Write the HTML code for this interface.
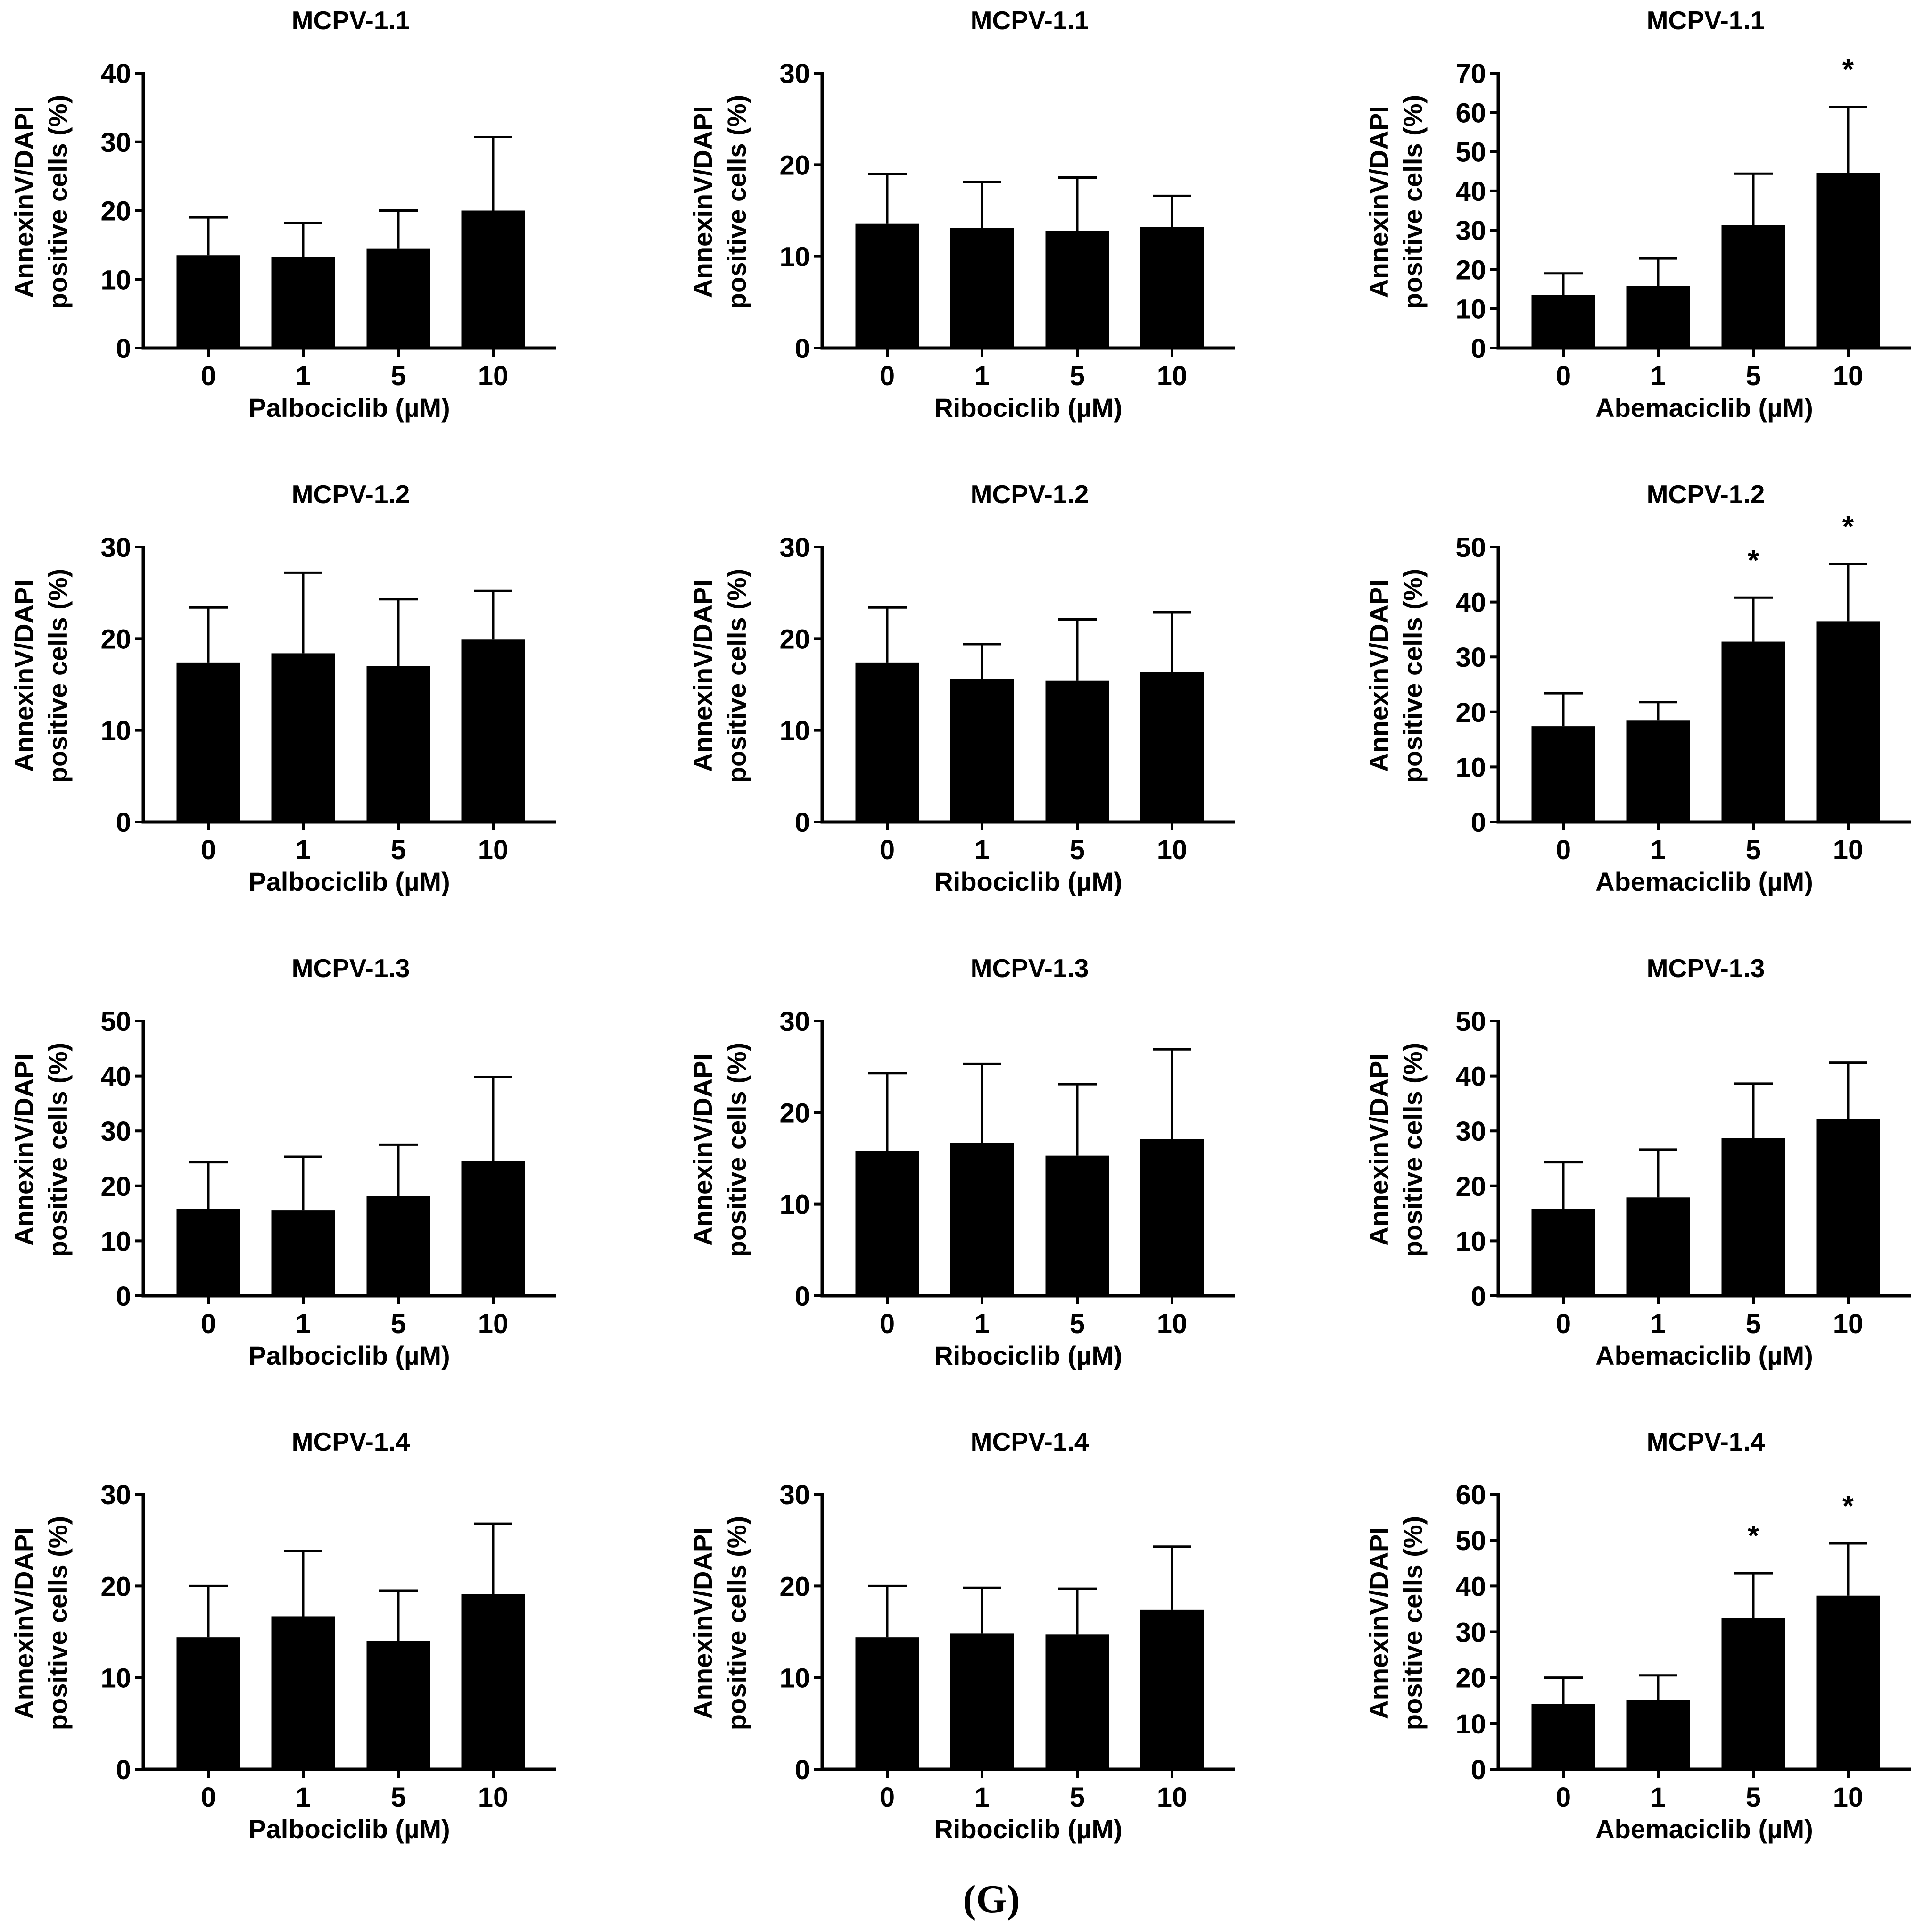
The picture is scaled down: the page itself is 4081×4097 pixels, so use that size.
<!DOCTYPE html>
<html><head><meta charset="utf-8">
<style>
html,body{margin:0;padding:0;background:#fff;}
svg{display:block;}
text{font-family:"Liberation Sans",Arial,sans-serif;font-weight:bold;fill:#000;}
</style></head>
<body>
<svg id="fig" width="4081" height="4097" viewBox="0 0 4081 4097" xmlns="http://www.w3.org/2000/svg">
<text x="2103" y="4055" font-size="84" text-anchor="middle" style="font-family:'Liberation Serif',serif;font-weight:bold">(G)</text>
</svg>
<script>
const categories = ["0","1","5","10"];
const titles = ["MCPV-1.1","MCPV-1.2","MCPV-1.3","MCPV-1.4"];
const drugs = ["Palbociclib (µM)","Ribociclib (µM)","Abemaciclib (µM)"];
const yMax = [[40,30,70],[30,30,50],[50,30,50],[30,30,60]];
const means_r1 = [[13.5,13.3,14.5,20],[13.6,13.1,12.8,13.2],[13.5,15.8,31.3,44.6]];
const tops_r1  = [[19,18.2,20,30.7],[19,18.1,18.6,16.6],[19,22.8,44.4,61.4]];
const means_r2 = [[17.4,18.4,17,19.9],[17.4,15.6,15.4,16.4],[17.4,18.5,32.8,36.5]];
const tops_r2  = [[23.4,27.2,24.3,25.2],[23.4,19.4,22.1,22.9],[23.4,21.8,40.8,46.9]];
const means_r3 = [[15.8,15.6,18.1,24.6],[15.8,16.7,15.3,17.1],[15.8,17.9,28.7,32.1]];
const tops_r3  = [[24.3,25.3,27.5,39.8],[24.3,25.3,23.1,26.9],[24.3,26.6,38.6,42.4]];
const means_r4 = [[14.4,16.7,14,19.1],[14.4,14.8,14.7,17.4],[14.3,15.2,33,37.9]];
const tops_r4  = [[20,23.8,19.5,26.8],[20,19.8,19.7,24.3],[20,20.5,42.8,49.3]];
const stars_r1 = [[],[],[3]];
const stars_r2 = [[],[],[2,3]];
const stars_r3 = [[],[],[]];
const stars_r4 = [[],[],[2,3]];
const tickStep = 10;

const means = [means_r1,means_r2,means_r3,means_r4];
const tops = [tops_r1,tops_r2,tops_r3,tops_r4];
const stars = [stars_r1,stars_r2,stars_r3,stars_r4];

const NS="http://www.w3.org/2000/svg";
const svg=document.getElementById('fig');
function mk(tag,attrs,parent){const e=document.createElementNS(NS,tag);for(const k in attrs)e.setAttribute(k,attrs[k]);(parent||svg).appendChild(e);return e;}
const colX=[304,1744,3178];
const rowZero=[738,1743,2748,3752];
const plotH=583, axisLen=875, barW=135;
const barOff=[138,339,541,742];

for(let r=0;r<4;r++){for(let c=0;c<3;c++){
  const ax=colX[c], y0=rowZero[r], ymax=yMax[r][c];
  const g=mk('g',{});
  
  
  const yS=v=>y0-v/ymax*plotH;
  const xS=i=>ax+barOff[i];
  const t=mk('text',{x:ax+440,y:y0-676,'font-size':55,'text-anchor':'middle'},g);
  t.textContent=titles[r];
  
  
  for(let i=0;i<4;i++){
    const m=means[r][c][i], tp=tops[r][c][i];
    const b=mk('rect',{x:xS(i)-barW/2,y:yS(m),width:barW,height:y0-yS(m),fill:'#000'},g);
    
    
    const e=mk('path',{d:`M${xS(i)} ${yS(m)}V${yS(tp)}M${xS(i)-41} ${yS(tp)}H${xS(i)+41}`,stroke:'#000','stroke-width':5,fill:'none'},g);
    
    
  }
  stars[r][c].forEach(i=>{
    const s=mk('text',{x:xS(i),y:yS(tops[r][c][i])-58,'font-size':62,'text-anchor':'middle'},g);
    s.textContent='*';
    
    
  });
  const axes=mk('path',{d:`M${ax} ${y0-plotH-3}V${y0}H${ax+axisLen}`,stroke:'#000','stroke-width':7,fill:'none'},g);
  
  
  for(let v=0;v<=ymax;v+=tickStep){
    mk('path',{d:`M${ax-18} ${yS(v)}H${ax}`,stroke:'#000','stroke-width':6},g);
    const tl=mk('text',{x:ax-26,y:yS(v)+21,'font-size':58,'text-anchor':'end'},g);
    tl.textContent=v;
    
    
  }
  for(let i=0;i<4;i++){
    mk('path',{d:`M${xS(i)} ${y0}V${y0+18}`,stroke:'#000','stroke-width':6},g);
    const xl=mk('text',{x:xS(i),y:y0+79,'font-size':58,'text-anchor':'middle'},g);
    xl.textContent=categories[i];
    
    
  }
  const xt=mk('text',{x:ax+437,y:y0+146,'font-size':56,'text-anchor':'middle'},g);
  xt.textContent=drugs[c];
  
  
  const cy=y0-310;
  const y1=mk('text',{x:0,y:0,'font-size':56,'text-anchor':'middle',transform:`translate(${ax-234},${cy}) rotate(-90)`},g);
  y1.textContent='AnnexinV/DAPI';
  
  
  const y2=mk('text',{x:0,y:0,'font-size':56,'text-anchor':'middle',transform:`translate(${ax-162},${cy}) rotate(-90)`},g);
  y2.textContent='positive cells (%)';
  
  
}}
</script>
</body></html>
